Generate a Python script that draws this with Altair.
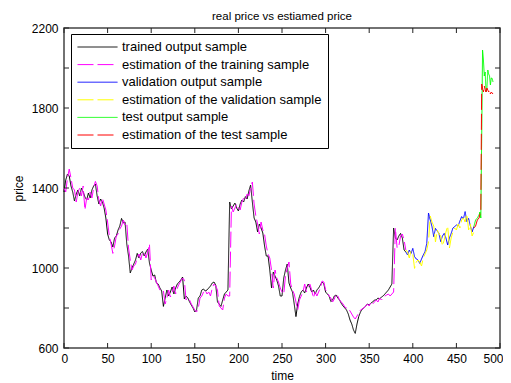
import altair as alt
import pandas as pd

# ---------------- data ----------------
series_names = [
    "trained output sample",
    "estimation of the training sample",
    "validation output sample",
    "\u00a0estimation of the validation sample",
    "test output sample",
    "estimation of the test sample",
]
series_colors = ["#000000", "#ff00ff", "#0000ff", "#ffff00", "#00ff00", "#ff0000"]
series_dash = [[1, 0], [16, 4], [1, 0], [16, 4], [1, 0], [16, 4]]

x_ticks = [0, 50, 100, 150, 200, 250, 300, 350, 400, 450, 500]
y_ticks = [600, 800, 1000, 1200, 1400, 1600, 1800, 2000, 2200]

train_t = list(range(0, 393, 2))
train_out = [
    1380, 1440, 1470, 1460, 1410, 1380, 1335, 1370, 1390, 1360,
    1400, 1380, 1355, 1340, 1375, 1350, 1390, 1410, 1420, 1360,
    1320, 1345, 1330, 1300, 1250, 1170, 1140, 1130, 1105, 1150,
    1160, 1190, 1210, 1248, 1225, 1230, 1120, 1060, 975, 1000,
    1020, 1040, 1073, 1050, 1075, 1082, 1060, 1080, 1095, 1025,
    990, 960, 965, 925, 920, 900, 885, 808, 850, 890,
    860, 880, 905, 870, 900, 920, 930, 940, 955, 845,
    860, 850, 830, 815, 800, 780, 790, 850, 860, 890,
    895, 885, 890, 900, 910, 925, 930, 915, 830, 820,
    808, 840, 870, 880, 890, 1330, 1295, 1310, 1325, 1300,
    1285, 1320, 1340, 1330, 1357, 1345, 1385, 1415, 1330, 1250,
    1230, 1180, 1220, 1200, 1175, 1110, 1060, 1060, 990, 900,
    980, 960, 940, 910, 860, 860, 950, 990, 1020, 925,
    900, 880, 820, 757, 820, 857, 880, 890, 875, 900,
    920, 905, 880, 890, 870, 890, 900, 915, 930, 920,
    880, 870, 860, 832, 840, 860, 865, 850, 840, 823,
    810, 800, 790, 770, 740, 720, 690, 673, 720, 757,
    780, 795, 800, 810, 820, 815, 825, 830, 840, 840,
    850, 845, 855, 860, 870, 880, 890, 905, 920, 1200,
    1150, 1140, 1160, 1173, 1150, 1090, 1080,
]
train_est = [
    1400, 1380, 1450, 1495, 1450, 1400, 1390, 1330, 1380, 1400,
    1360, 1410, 1290, 1350, 1340, 1380, 1350, 1400, 1433, 1410,
    1340, 1310, 1350, 1320, 1290, 1230, 1160, 1120, 1073, 1110,
    1160, 1170, 1195, 1210, 1240, 1215, 1225, 1100, 1040, 990,
    1010, 1020, 1050, 1070, 1040, 1075, 1080, 1050, 1080, 1120,
    940, 960, 950, 930, 910, 890, 895, 885, 820, 850,
    890, 855, 875, 910, 870, 900, 920, 935, 950, 940,
    840, 850, 840, 820, 805, 790, 780, 800, 850, 860,
    880, 890, 870, 880, 860, 900, 920, 910, 890, 810,
    800, 790, 850, 870, 860, 860, 1310, 1280, 1300, 1320,
    1300, 1290, 1330, 1350, 1340, 1370, 1360, 1400, 1430, 1320,
    1260, 1220, 1170, 1230, 1190, 1170, 1110, 1070, 1050, 990,
    900, 990, 950, 930, 900, 880, 870, 960, 1000, 1030,
    920, 890, 870, 830, 790, 840, 860, 880, 920, 880,
    910, 920, 890, 850, 880, 860, 880, 900, 935, 930,
    890, 880, 860, 850, 830, 845, 870, 860, 840, 830,
    820, 805, 800, 800, 785, 770, 755, 745, 760, 775,
    790, 795, 800, 810, 820, 810, 830, 820, 830, 840,
    830, 850, 840, 850, 860, 865, 870, 860, 870, 880,
    1200, 1100, 1110, 1160, 1170, 1140, 1090,
]

val_t = list(range(392, 471, 2))
val_out = [
    1080, 1065, 1090, 1073, 1098, 1057, 1045, 1040, 1023, 1045,
    1065, 1082, 1123, 1275, 1240, 1207, 1157, 1198, 1185, 1173,
    1132, 1160, 1173, 1150, 1115, 1150, 1173, 1200, 1207, 1215,
    1210, 1235, 1257, 1245, 1282, 1232, 1248, 1210, 1180, 1207,
]
val_est = [
    1090, 1080, 1050, 1085, 1070, 998, 1030, 1040, 1030, 1010,
    1050, 1070, 1090, 1130, 1260, 1230, 1210, 1130, 1190, 1170,
    1160, 1110, 1140, 1180, 1210, 1100, 1150, 1180, 1200, 1190,
    1220, 1200, 1240, 1250, 1230, 1270, 1190, 1220, 1160, 1180,
]

test_t = [470, 472, 474, 476, 477, 478, 479, 480, 481, 482,
          483, 484, 485, 486, 487, 488, 489, 490, 491, 492]
test_out = [1207, 1240, 1250, 1265, 1280, 1250, 1650, 2090, 2040, 1960,
            1980, 1880, 1900, 1990, 1970, 1960, 1915, 1950, 1948, 1930]
test_est = [1200, 1210, 1240, 1250, 1270, 1280, 1920, 1900, 1880, 1910,
            1890, 1880, 1900, 1890, 1880, 1890, 1870, 1880, 1875, 1870]

# ---------------- build long table ----------------
frames = []
for name, tt, vv in [
    (series_names[0], train_t, train_out),
    (series_names[1], train_t, train_est),
    (series_names[2], val_t, val_out),
    (series_names[3], val_t, val_est),
    (series_names[4], test_t, test_out),
    (series_names[5], test_t, test_est),
]:
    frames.append(pd.DataFrame({"time": tt, "price": vv, "series": name}))
df = pd.concat(frames, ignore_index=True)

FONT = "Liberation Sans"
W, H = 436, 320

xscale = alt.Scale(domain=[0, 500], nice=False, zero=False)
yscale = alt.Scale(domain=[600, 2200], nice=False, zero=False)

legend = alt.Legend(
    orient="none", legendX=7, legendY=6, title=None,
    strokeColor="#000000", fillColor="#ffffff", padding=6,
    symbolType="stroke", symbolSize=1600, symbolStrokeWidth=1,
    clipHeight=14, rowPadding=3.6, labelFontSize=13, labelFont=FONT,
    labelColor="#000000", labelOffset=4, labelLimit=400,
)

lines = alt.Chart(df).mark_line(strokeWidth=1).encode(
    x=alt.X("time:Q", scale=xscale,
            axis=alt.Axis(values=x_ticks, format="d", ticks=False, tickSize=0, domain=False,
                          grid=False, labelFlush=True, labelFlushOffset=3, labelPadding=5,
                          title="time", titleY=27, titleBaseline="middle")),
    y=alt.Y("price:Q", scale=yscale,
            axis=alt.Axis(values=y_ticks, format="d", ticks=False, tickSize=0, domain=False,
                          grid=False, labelFlush=False, labelPadding=6, title="price",
                          titleX=-46, titleY=160, titleBaseline="middle")),
    color=alt.Color("series:N", scale=alt.Scale(domain=series_names, range=series_colors),
                    legend=legend),
    strokeDash=alt.StrokeDash("series:N", scale=alt.Scale(domain=series_names, range=series_dash),
                              legend=legend),
    detail="series:N",
)

xt = pd.DataFrame({"time": x_ticks})
yt = pd.DataFrame({"price": y_ticks})
tick_color = "#222222"
bottom_ticks = alt.Chart(xt).mark_rule(color=tick_color).encode(
    x=alt.X("time:Q", scale=xscale), y=alt.value(H), y2=alt.value(H - 5))
top_ticks = alt.Chart(xt).mark_rule(color=tick_color).encode(
    x=alt.X("time:Q", scale=xscale), y=alt.value(0), y2=alt.value(5))
left_ticks = alt.Chart(yt).mark_rule(color=tick_color).encode(
    y=alt.Y("price:Q", scale=yscale), x=alt.value(0), x2=alt.value(5))
right_ticks = alt.Chart(yt).mark_rule(color=tick_color).encode(
    y=alt.Y("price:Q", scale=yscale), x=alt.value(W), x2=alt.value(W - 5))

chart = alt.layer(lines, bottom_ticks, top_ticks, left_ticks, right_ticks).properties(
    width=W, height=H,
    title=alt.TitleParams("real price vs estiamed price", fontSize=11.5, fontWeight="normal",
                          font=FONT, color="#000000", anchor="middle", frame="group",
                          offset=0),
    autosize=alt.AutoSizeParams(type="none"),
    padding={"left": 56, "top": 20, "right": 3, "bottom": 35},
).configure_view(
    stroke="#444444", strokeWidth=1.5
).configure_axis(
    labelFont=FONT, labelFontSize=12, labelColor="#000000",
    titleFont=FONT, titleFontSize=12, titleFontWeight="normal", titleColor="#000000",
)

chart.save("out.html", embed_options={"renderer": "svg", "actions": False})
